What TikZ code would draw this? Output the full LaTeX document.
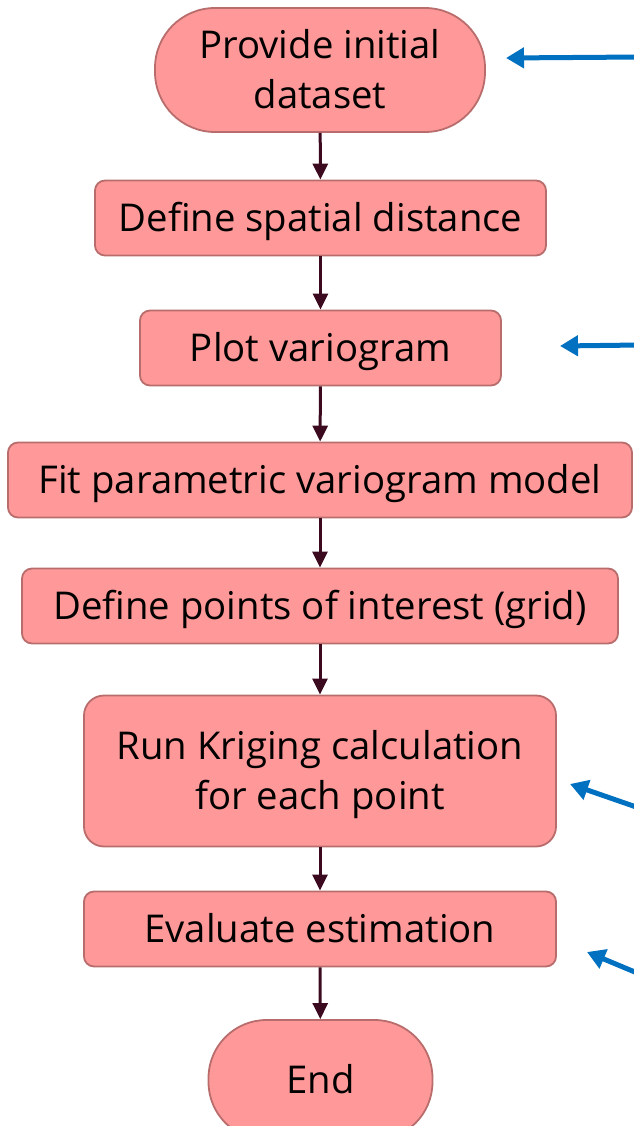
\documentclass[tikz,border=0pt]{standalone}
\usepackage{fontspec}
\setmainfont{Open Sans}
\usetikzlibrary{arrows.meta}
\definecolor{boxfill}{HTML}{FF9999}
\definecolor{boxline}{HTML}{B96C6C}
\definecolor{flowline}{HTML}{3C0A1E}
\definecolor{blue1}{HTML}{0070C0}
\begin{document}
\begin{tikzpicture}[x=1pt,y=-1pt,
  every node/.style={font=\fontsize{38.3}{50}\selectfont, align=center, inner sep=0pt},
  boxbase/.style={draw=boxline, fill=boxfill, line width=1.8pt, text height=27.5pt, text depth=0pt},
  twoline/.style={text height=77.5pt, text depth=0pt},
  term/.style={boxbase, rounded corners=60pt},
  procbox/.style={boxbase, rounded corners=10pt, minimum height=75pt},
  bigbox/.style={boxbase, rounded corners=20pt},
  flow/.style={draw=flowline, line width=3pt, -{Triangle[width=15pt,length=16pt]}},
  note/.style={draw=blue1, line width=5pt, -{Triangle[width=20pt,length=18pt]}}]
\useasboundingbox (0,0) rectangle (633,1126);
\node[term, twoline, minimum width=330pt, minimum height=124pt] (start) at (320,70) {Provide initial\\dataset};
\node[procbox, minimum width=451pt] (dist) at (320.5,218) {Define spatial distance};
\node[procbox, minimum width=361pt] (plot) at (320.5,348) {Plot variogram};
\node[procbox, minimum width=624pt] (fit) at (320,480) {Fit parametric variogram model};
\node[procbox, minimum width=596pt] (grid) at (320,606) {Define points of interest (grid)};
\node[bigbox, twoline, minimum width=472pt, minimum height=151pt] (krig) at (320,771) {Run Kriging calculation\\for each point};
\node[procbox, minimum width=472pt] (eval) at (320,929) {Evaluate estimation};
\node[term, minimum width=224pt, minimum height=120pt, rounded corners=58pt] (end) at (320.5,1080) {End};
\draw[flow] (start) -- (dist);
\draw[flow] (dist) -- (plot);
\draw[flow] (plot) -- (fit);
\draw[flow] (fit) -- (grid);
\draw[flow] (grid) -- (krig);
\draw[flow] (krig) -- (eval);
\draw[flow] (eval) -- (end);
\coordinate (n1s) at (640,57);
\coordinate (n1e) at (506,58);
\coordinate (n2s) at (640,345);
\coordinate (n2e) at (560,346);
\coordinate (n3s) at (642,809);
\coordinate (n3e) at (570,784);
\coordinate (n4s) at (642,975);
\coordinate (n4e) at (587,952);
\draw[note] (n1s) -- (n1e);
\draw[note] (n2s) -- (n2e);
\draw[note] (n3s) -- (n3e);
\draw[note] (n4s) -- (n4e);
\end{tikzpicture}
\end{document}
